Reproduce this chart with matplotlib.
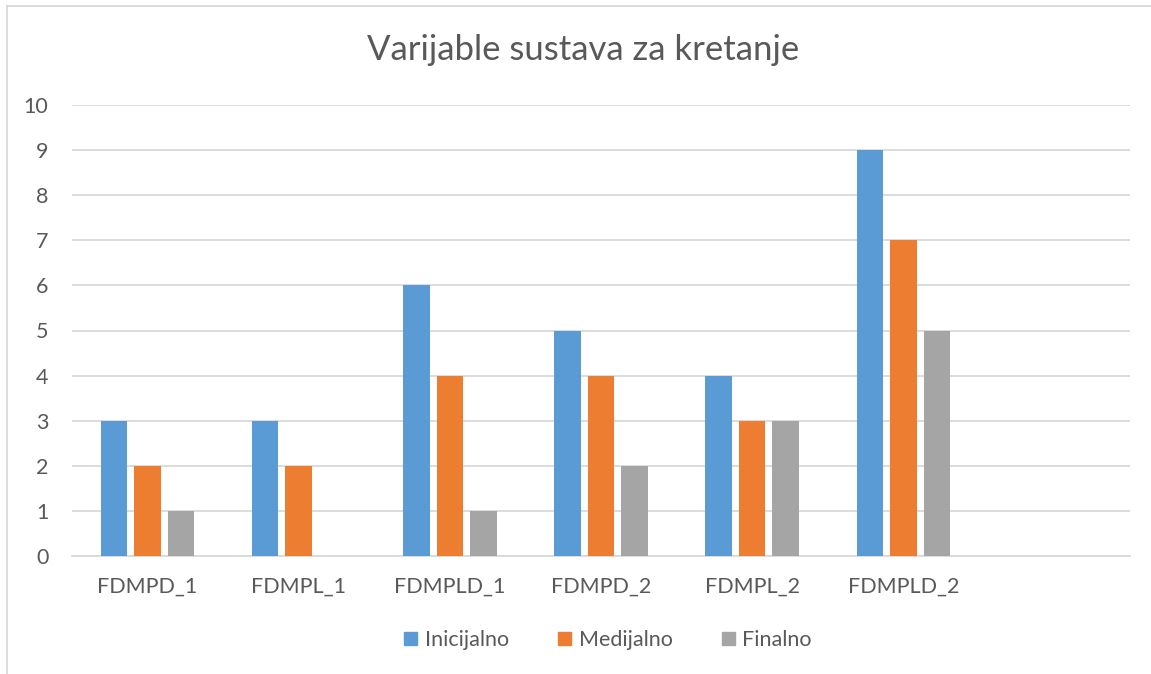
import matplotlib.pyplot as plt
import numpy as np
from matplotlib.lines import Line2D
from matplotlib.patches import Patch

# data
categories = ['FDMPD_1', 'FDMPL_1', 'FDMPLD_1', 'FDMPD_2', 'FDMPL_2', 'FDMPLD_2', '']
inicijalno = [3, 3, 6, 5, 4, 9, np.nan]
medijalno = [2, 2, 4, 4, 3, 7, np.nan]
finalno = [1, 0, 1, 2, 3, 5, np.nan]
series_names = ['Inicijalno', 'Medijalno', 'Finalno']
colors = ['#5b9bd5', '#ed7d31', '#a5a5a5']

plt.rcParams['font.family'] = ['Lato', 'DejaVu Sans']
text_color = '#595959'

fig = plt.figure(figsize=(11.51, 6.74), dpi=100)
ax = fig.add_axes([72 / 1151, 1 - 556 / 674, (1130 - 72) / 1151, (556 - 105) / 674])

x = np.arange(len(categories))
barWidth = 0.175
step = 0.222
for i, (vals, name, c) in enumerate(zip([inicijalno, medijalno, finalno], series_names, colors)):
    ax.bar(x + (i - 1) * step, vals, width=barWidth, color=c, label=name, zorder=3)

ax.set_xlim(-0.5, len(categories) - 0.5)
ax.set_ylim(0, 10)
ax.set_yticks(range(0, 11))
ax.yaxis.grid(True, color='#d9d9d9', linewidth=1.3, zorder=0)
for s in ['top', 'right', 'left']:
    ax.spines[s].set_visible(False)
ax.spines['bottom'].set_color('#d9d9d9')
ax.spines['bottom'].set_linewidth(1.3)
ax.tick_params(axis='both', length=0, labelsize=15.5, colors=text_color)
ax.tick_params(axis='y', pad=17)
ax.tick_params(axis='x', pad=15)
ax.set_xticks(x)
ax.set_xticklabels(categories)

fig.text(583 / 1151, 1 - 50 / 674, 'Varijable sustava za kretanje', ha='center', va='center',
         fontsize=25, color=text_color)

handles = [Patch(color=c) for c in colors]
fig.legend(handles, series_names, loc='center', bbox_to_anchor=(608 / 1151, 1 - 640 / 674),
           ncol=3, frameon=False, fontsize=15.5, labelcolor=text_color,
           handlelength=0.6, handleheight=0.6, handletextpad=0.35, columnspacing=2.3)

# chart border (top and left visible)
fig.add_artist(Line2D([7 / 1151, 1], [1 - 6 / 674, 1 - 6 / 674], color='#d9d9d9', linewidth=1.3))
fig.add_artist(Line2D([7 / 1151, 7 / 1151], [0, 1 - 6 / 674], color='#d9d9d9', linewidth=1.3))

fig.savefig('out.png', dpi=100)
